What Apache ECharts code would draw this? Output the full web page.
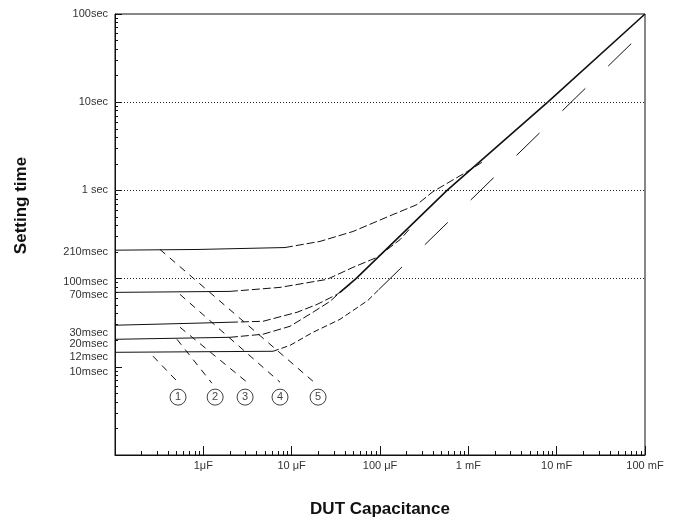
<!DOCTYPE html>
<html>
<head>
<meta charset="utf-8">
<script src="https://cdn.jsdelivr.net/npm/echarts@6/dist/echarts.min.js"></script>
<style>
html, body { margin: 0; padding: 0; background: #fff; }
#chart { width: 677px; height: 523px; }
</style>
</head>
<body>
<div id="chart"></div>
<script>
// x = DUT capacitance (F), y = setting time (s)
var curve210Flat = [[1e-7, 0.21], [8.7e-7, 0.214], [8.4e-6, 0.225]];
var curve210Rise = [[8.4e-6, 0.225], [2.09e-5, 0.264], [4.94e-5, 0.342], [1.40e-4, 0.532], [2.62e-4, 0.69], [3.98e-4, 0.969], [9.66e-4, 1.63], [1.47e-3, 2.12]];
var curve70Flat = [[1e-7, 0.0698], [2.0e-6, 0.0716]];
var curve70Rise = [[2.0e-6, 0.0716], [7.38e-6, 0.0795], [2.51e-5, 0.098], [4.94e-5, 0.134], [9.24e-5, 0.174], [1.69e-4, 0.277], [2.19e-4, 0.37]];
var curve30Flat = [[1e-7, 0.0296], [7.06e-7, 0.0311], [2.0e-6, 0.032]];
var curve30Rise = [[2.0e-6, 0.032], [4.74e-6, 0.0328], [1.15e-5, 0.0415], [1.94e-5, 0.051], [3.26e-5, 0.0662], [4.57e-5, 0.086]];
var curve20Flat = [[1e-7, 0.0205], [2.0e-6, 0.0216]];
var curve20Rise = [[2.0e-6, 0.0216], [4.74e-6, 0.0234], [9.58e-6, 0.0288], [1.74e-5, 0.0415], [2.72e-5, 0.0552], [3.52e-5, 0.0698]];
var curve12Flat = [[1e-7, 0.0146], [6.15e-6, 0.015]];
var curve12Rise = [[6.15e-6, 0.015], [9.58e-6, 0.0175], [1.74e-5, 0.0246], [3.52e-5, 0.0345], [7.31e-5, 0.0567], [9.75e-5, 0.0755]];
var mainLine = [[3.52e-5, 0.0698], [5.35e-5, 0.1], [5.74e-4, 1.0], [7.98e-3, 10.1], [0.1, 100]];
var asymptote = [[9.75e-5, 0.0755], [0.0771, 50.8]];

// range boundary lines 1..5
var range1 = [[2.69e-7, 0.0132], [5.17e-7, 0.00669]];
var range2 = [[5.03e-7, 0.0205], [1.25e-6, 0.00652]];
var range3 = [[5.44e-7, 0.0281], [3.12e-6, 0.00669]];
var range4 = [[5.44e-7, 0.0662], [7.38e-6, 0.00669]];
var range5 = [[3.23e-7, 0.214], [1.74e-5, 0.00687]];
var rangeNames = ['1', '2', '3', '4', '5'];
var rangeMarkC = [5.17e-7, 1.36e-6, 2.97e-6, 7.38e-6, 1.99e-5];
var rangeMarkT = 0.00453;

var gridLevels = [10, 1, 0.1];
var xLabelValues = [1e-6, 1e-5, 1e-4, 1e-3, 1e-2, 1e-1];
var xLabelTexts = ['1\u03bcF', '10 \u03bcF', '100 \u03bcF', '1 mF', '10 mF', '100 mF'];
var yLabelValues = [100, 10, 1, 0.21, 0.1, 0.07, 0.03, 0.02, 0.012, 0.01];
var yLabelTexts = ['100sec', '10sec', '1 sec', '210msec', '100msec', '70msec', '30msec', '20msec', '12msec', '10msec'];

var xDecades = [1e-7, 1e-6, 1e-5, 1e-4, 1e-3, 1e-2, 1e-1];
var yDecades = [1e-3, 1e-2, 1e-1, 1, 10, 100];

// vertical nudge (px) of each y label so the crowded ones don't collide
var yLabelNudge = [0, 0, 0, 2, 3, 3, 8, 4, -3, 5];

function minorTicks(decades) {
    var out = [];
    for (var i = 0; i < decades.length - 1; i++) {
        for (var k = 2; k <= 9; k++) {
            out.push(k * decades[i]);
        }
    }
    return out;
}

function findIndex(values, v) {
    for (var i = 0; i < values.length; i++) {
        if (Math.abs(v / values[i] - 1) < 1e-6) return i;
    }
    return -1;
}

var fontName = 'Liberation Sans';
var ink = '#111';

var yRich = {};
yLabelNudge.forEach(function (d, i) {
    yRich['n' + i] = {
        fontFamily: fontName,
        fontSize: 11,
        color: '#333',
        padding: d >= 0 ? [2 * d, 0, 0, 0] : [0, 0, -2 * d, 0]
    };
});

function lineSeries(data, type, width) {
    return {
        type: 'line',
        data: data,
        showSymbol: false,
        silent: true,
        lineStyle: {color: ink, width: width || 1, type: type || 'solid'}
    };
}

var series = [
    lineSeries(curve210Flat),
    lineSeries(curve210Rise, [8, 3]),
    lineSeries(curve70Flat),
    lineSeries(curve70Rise, [8, 3]),
    lineSeries(curve30Flat),
    lineSeries(curve30Rise, [8, 3]),
    lineSeries(curve20Flat),
    lineSeries(curve20Rise, [8, 3]),
    lineSeries(curve12Flat),
    lineSeries(curve12Rise, [6, 3]),
    lineSeries(mainLine, 'solid', 1.6),
    lineSeries(asymptote, [32, 32]),
    lineSeries(range1, [7, 6]),
    lineSeries(range2, [7, 6]),
    lineSeries(range3, [7, 6]),
    lineSeries(range4, [7, 6]),
    lineSeries(range5, [7, 6])
];

series[0].markLine = {
    silent: true,
    symbol: 'none',
    label: {show: false},
    lineStyle: {color: '#222', width: 1, type: [1, 2]},
    data: gridLevels.map(function (v) { return {yAxis: v}; })
};

series.push({
    type: 'scatter',
    silent: true,
    symbol: 'circle',
    symbolSize: 16,
    itemStyle: {color: '#fff', borderColor: ink, borderWidth: 1},
    label: {
        show: true,
        position: 'inside',
        color: ink,
        fontFamily: fontName,
        fontSize: 11,
        formatter: function (p) { return rangeNames[p.dataIndex]; }
    },
    data: rangeMarkC.map(function (c) { return [c, rangeMarkT]; })
});

var chart = echarts.init(document.getElementById('chart'));
var option = {
    animation: false,
    backgroundColor: '#fff',
    grid: {
        left: 115,
        right: 32,
        top: 14,
        bottom: 67,
        show: true,
        borderColor: ink,
        borderWidth: 1
    },
    xAxis: [
        {
            type: 'log',
            min: 1e-7,
            max: 0.1,
            position: 'bottom',
            name: 'DUT Capacitance',
            nameLocation: 'middle',
            nameGap: 46,
            nameTextStyle: {fontFamily: fontName, fontSize: 17, fontWeight: 'bold', color: ink},
            axisLine: {lineStyle: {color: ink, width: 1}},
            axisTick: {inside: true, length: 9, lineStyle: {color: ink}, customValues: xDecades},
            axisLabel: {
                customValues: xLabelValues,
                formatter: function (v) { return xLabelTexts[findIndex(xLabelValues, v)] || ''; },
                fontFamily: fontName,
                fontSize: 11,
                color: '#333',
                margin: 5,
                hideOverlap: false
            },
            splitLine: {show: false}
        },
        {
            type: 'log',
            min: 1e-7,
            max: 0.1,
            position: 'bottom',
            axisLine: {show: false},
            axisTick: {inside: true, length: 4, lineStyle: {color: ink}, customValues: minorTicks(xDecades)},
            axisLabel: {show: false},
            splitLine: {show: false}
        }
    ],
    yAxis: [
        {
            type: 'log',
            min: 1e-3,
            max: 100,
            position: 'left',
            name: 'Setting time',
            nameLocation: 'middle',
            nameGap: 85,
            nameTextStyle: {fontFamily: fontName, fontSize: 17, fontWeight: 'bold', color: ink, padding: [0, 0, 0, 58]},
            axisLine: {lineStyle: {color: ink, width: 1}},
            axisTick: {inside: true, length: 7, lineStyle: {color: ink}, customValues: yDecades},
            axisLabel: {
                customValues: yLabelValues,
                formatter: function (v) {
                    var i = findIndex(yLabelValues, v);
                    return i < 0 ? '' : '{n' + i + '|' + yLabelTexts[i] + '}';
                },
                rich: yRich,
                fontFamily: fontName,
                fontSize: 11,
                color: '#333',
                margin: 7,
                hideOverlap: false
            },
            splitLine: {show: false}
        },
        {
            type: 'log',
            min: 1e-3,
            max: 100,
            position: 'left',
            axisLine: {show: false},
            axisTick: {inside: true, length: 3, lineStyle: {color: ink}, customValues: minorTicks(yDecades)},
            axisLabel: {show: false},
            splitLine: {show: false}
        }
    ],
    series: series
};
chart.setOption(option);
</script>
</body>
</html>
